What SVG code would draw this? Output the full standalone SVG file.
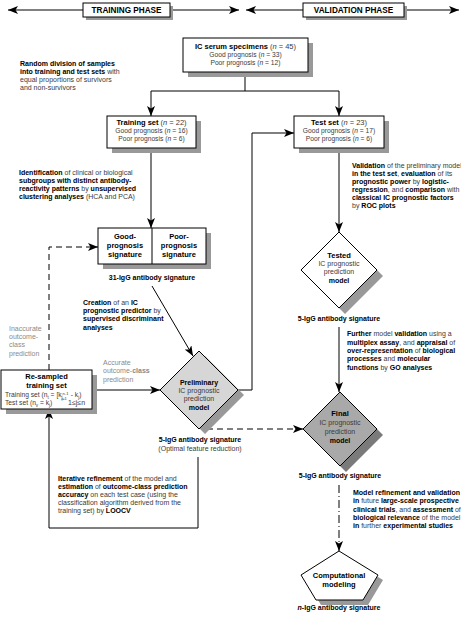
<svg xmlns="http://www.w3.org/2000/svg" width="461" height="617" viewBox="0 0 461 617">
<style>
.t{font-family:"Liberation Sans",Arial,Helvetica,sans-serif;font-size:7px;fill:#3a3a3a}
.c{text-anchor:middle}
.b{font-weight:bold;fill:#000}
.g{fill:#8a8a8a}
.s{font-size:6.7px}
.h{font-size:7.5px}
.hd{font-size:8.2px}
.box{fill:#fff;stroke:#000;stroke-width:1}
.sh{fill:#999}
.ln{fill:none;stroke:#000;stroke-width:1}
.dash{stroke-dasharray:6 4}
.dd{stroke-dasharray:8 3 1 3}
</style>
<defs>
<marker id="ah" markerUnits="userSpaceOnUse" markerWidth="10" markerHeight="8" refX="10" refY="4" orient="auto-start-reverse">
<path d="M0,0 L10,4 L0,8 L2.5,4 Z" fill="#000"/>
</marker>
</defs>
<rect width="461" height="617" fill="#fff"/>

<g id="connectors">
<line class="ln" x1="83" y1="10" x2="8" y2="10" marker-end="url(#ah)"/>
<line class="ln" x1="170" y1="10" x2="239" y2="10" marker-end="url(#ah)"/>
<line class="ln" x1="303" y1="10" x2="246" y2="10" marker-end="url(#ah)"/>
<line class="ln" x1="404" y1="10" x2="459" y2="10" marker-end="url(#ah)"/>
<line class="ln" x1="245" y1="72" x2="245" y2="91"/>
<line class="ln" x1="151" y1="91" x2="339" y2="91"/>
<line class="ln" x1="151" y1="91" x2="151" y2="116" marker-end="url(#ah)"/>
<line class="ln" x1="339" y1="91" x2="339" y2="116" marker-end="url(#ah)"/>
<line class="ln" x1="151" y1="148" x2="151" y2="228" marker-end="url(#ah)"/>
<line class="ln" x1="339" y1="148" x2="339" y2="232" marker-end="url(#ah)"/>
<line class="ln" x1="152" y1="286" x2="193" y2="356" marker-end="url(#ah)"/>
<line class="ln" x1="92" y1="390" x2="160" y2="390" marker-end="url(#ah)"/>
<polyline class="ln" points="238,390 252,390 252,133 294,133" marker-end="url(#ah)"/>
<line class="ln dash" x1="207" y1="429" x2="303" y2="429" marker-end="url(#ah)"/>
<polyline class="ln dash" points="49,370 49,247 98,247" marker-end="url(#ah)"/>
<polyline class="ln" points="198,457 198,528 49,528 49,409" marker-end="url(#ah)"/>
<line class="ln" x1="339" y1="327" x2="339" y2="392" marker-end="url(#ah)"/>
<line class="ln dd" x1="339" y1="485" x2="339" y2="551" marker-end="url(#ah)"/>
</g>

<g id="training-phase">
<rect class="sh" x="86" y="6" width="87" height="14"/>
<rect class="box" x="83" y="3" width="87" height="14"/>
<text class="t b hd c" x="126.5" y="13">TRAINING PHASE</text>
</g>
<g id="validation-phase">
<rect class="sh" x="306" y="6" width="101" height="14"/>
<rect class="box" x="303" y="3" width="101" height="14"/>
<text class="t b hd c" x="353.5" y="13">VALIDATION PHASE</text>
</g>

<g id="ic-serum">
<rect class="sh" x="188" y="43" width="125" height="34"/>
<rect class="box" x="183" y="38" width="125" height="34"/>
<text class="t h c" x="245.5" y="49"><tspan class="b">IC serum specimens</tspan> (<tspan font-style="italic">n</tspan> = 45)</text>
<text class="t s c" x="245.5" y="57">Good prognosis (<tspan font-style="italic">n</tspan> = 33)</text>
<text class="t s c" x="245.5" y="65">Poor prognosis (<tspan font-style="italic">n</tspan> = 12)</text>
</g>

<g id="random-division-note">
<text class="t" x="20" y="66"><tspan class="b">Random division of samples</tspan></text>
<text class="t" x="20" y="74"><tspan class="b">into training and test sets</tspan> with</text>
<text class="t" x="20" y="82">equal proportions of survivors</text>
<text class="t" x="20" y="90">and non-survivors</text>
</g>

<g id="training-set">
<rect class="sh" x="112" y="121" width="89" height="32"/>
<rect class="box" x="107" y="116" width="89" height="32"/>
<text class="t h c" x="151.5" y="125"><tspan class="b">Training set</tspan> (<tspan font-style="italic">n</tspan> = 22)</text>
<text class="t s c" x="151.5" y="133">Good prognosis (<tspan font-style="italic">n</tspan> = 16)</text>
<text class="t s c" x="151.5" y="141">Poor prognosis (<tspan font-style="italic">n</tspan> = 6)</text>
</g>

<g id="test-set">
<rect class="sh" x="299" y="121" width="90" height="32"/>
<rect class="box" x="294" y="116" width="90" height="32"/>
<text class="t h c" x="339" y="125"><tspan class="b">Test set</tspan> (<tspan font-style="italic">n</tspan> = 23)</text>
<text class="t s c" x="339" y="133">Good prognosis (<tspan font-style="italic">n</tspan> = 17)</text>
<text class="t s c" x="339" y="141">Poor prognosis (<tspan font-style="italic">n</tspan> = 6)</text>
</g>

<g id="identification-note">
<text class="t" x="19" y="175"><tspan class="b">Identification</tspan> of clinical or biological</text>
<text class="t" x="19" y="183"><tspan class="b">subgroups with distinct antibody-</tspan></text>
<text class="t" x="19" y="191"><tspan class="b">reactivity patterns</tspan> by <tspan class="b">unsupervised</tspan></text>
<text class="t" x="19" y="199"><tspan class="b">clustering analyses</tspan> (HCA and PCA)</text>
</g>

<g id="validation-note">
<text class="t" x="352" y="168"><tspan class="b">Validation</tspan> of the preliminary model</text>
<text class="t" x="352" y="176"><tspan class="b">in the test set</tspan>, <tspan class="b">evaluation</tspan> of its</text>
<text class="t" x="352" y="184"><tspan class="b">prognostic power</tspan> by <tspan class="b">logistic-</tspan></text>
<text class="t" x="352" y="192"><tspan class="b">regression</tspan>, and <tspan class="b">comparison</tspan> with</text>
<text class="t" x="352" y="200"><tspan class="b">classical IC prognostic factors</tspan></text>
<text class="t" x="352" y="208">by <tspan class="b">ROC plots</tspan></text>
</g>

<g id="signature-box">
<rect class="sh" x="103" y="233" width="108" height="36"/>
<rect class="box" x="98" y="228" width="108" height="36"/>
<line class="ln" x1="152" y1="228" x2="152" y2="264"/>
<text class="t b h c" x="125" y="239">Good-</text>
<text class="t b h c" x="125" y="248">prognosis</text>
<text class="t b h c" x="125" y="257">signature</text>
<text class="t b h c" x="179" y="239">Poor-</text>
<text class="t b h c" x="179" y="248">prognosis</text>
<text class="t b h c" x="179" y="257">signature</text>
<text class="t b c" x="152" y="280">31-IgG antibody signature</text>
</g>

<g id="tested-model">
<polygon class="sh" points="345,238 383,276 345,314 307,276"/>
<polygon class="box" points="339,232 377,270 339,308 301,270"/>
<text class="t b h c" x="339" y="258">Tested</text>
<text class="t c" x="339" y="266">IC prognostic</text>
<text class="t c" x="339" y="274">prediction</text>
<text class="t b c" x="339" y="283">model</text>
<text class="t b c" x="339" y="321">5-IgG antibody signature</text>
</g>

<g id="creation-note">
<text class="t" x="83" y="305"><tspan class="b">Creation</tspan> of an <tspan class="b">IC</tspan></text>
<text class="t" x="83" y="313"><tspan class="b">prognostic predictor</tspan> by</text>
<text class="t" x="83" y="321"><tspan class="b">supervised discriminant</tspan></text>
<text class="t" x="83" y="330"><tspan class="b">analyses</tspan></text>
</g>

<g id="inaccurate-note">
<text class="t g" x="9" y="331">Inaccurate</text>
<text class="t g" x="9" y="339">outcome-</text>
<text class="t g" x="9" y="347">class</text>
<text class="t g" x="9" y="356">prediction</text>
</g>

<g id="accurate-note">
<text class="t g" x="103" y="365">Accurate</text>
<text class="t g" x="103" y="373">outcome-<tspan font-weight="bold">class</tspan></text>
<text class="t g" x="103" y="382">prediction</text>
</g>

<g id="further-note">
<text class="t" x="347" y="336"><tspan class="b">Further</tspan> model <tspan class="b">validation</tspan> using a</text>
<text class="t" x="347" y="345"><tspan class="b">multiplex assay</tspan>, and <tspan class="b">appraisal</tspan> of</text>
<text class="t" x="347" y="353"><tspan class="b">over-representation</tspan> of <tspan class="b">biological</tspan></text>
<text class="t" x="347" y="361"><tspan class="b">processes</tspan> and <tspan class="b">molecular</tspan></text>
<text class="t" x="347" y="370"><tspan class="b">functions</tspan> by <tspan class="b">GO analyses</tspan></text>
</g>

<g id="resampled-set">
<rect class="sh" x="6" y="375" width="91" height="39"/>
<rect class="box" x="1" y="370" width="91" height="39"/>
<text class="t b h c" x="46.5" y="379">Re-sampled</text>
<text class="t b h c" x="46.5" y="388">training set</text>
<text class="t s" x="5" y="397">Training set (n<tspan font-size="4.5" dy="1.5">t</tspan><tspan dy="-1.5"> = [k</tspan><tspan font-size="4.5" dy="1.5">j</tspan><tspan font-size="4" dy="-4">n-1</tspan><tspan dx="-7" font-size="4" dy="5">j=1</tspan><tspan dy="-2.5" dx="2"> - k</tspan><tspan font-size="4.5" dy="1.5">j</tspan><tspan dy="-1.5">)</tspan></text>
<text class="t s" x="5" y="405">Test set (n<tspan font-size="4.5" dy="1.5">v</tspan><tspan dy="-1.5"> = k</tspan><tspan font-size="4.5" dy="1.5">j</tspan><tspan dy="-1.5">)</tspan></text>
<text class="t" font-size="5" x="68" y="405">1≤j≤n</text>
</g>

<g id="preliminary-model">
<polygon class="sh" points="205,356 244,395 205,434 166,395"/>
<polygon points="199,351 238,390 199,429 160,390" fill="#d6d6d6" stroke="#000" stroke-width="1"/>
<text class="t b c" font-size="8" x="199" y="385">Preliminary</text>
<text class="t c" font-size="7.5" x="199" y="393">IC prognostic</text>
<text class="t c" font-size="7.5" x="199" y="401">prediction</text>
<text class="t b c" font-size="7.5" x="199" y="410">model</text>
<text class="t b c" x="200" y="442">5-IgG antibody signature</text>
<text class="t c" x="200" y="451">(Optimal feature reduction)</text>
</g>

<g id="final-model">
<polygon points="346,398 383,435 346,472 309,435" fill="#7a7a7a"/>
<polygon points="340,392 377,429 340,466 303,429" fill="#a9a9a9" stroke="#000" stroke-width="1"/>
<text class="t b h c" x="340" y="416">Final</text>
<text class="t c" x="340" y="425">IC prognostic</text>
<text class="t c" x="340" y="434">prediction</text>
<text class="t b c" x="340" y="443">model</text>
<text class="t b c" x="340" y="478">5-IgG antibody signature</text>
</g>

<g id="iterative-note">
<text class="t" x="58" y="481"><tspan class="b">Iterative refinement</tspan> of the model and</text>
<text class="t" x="58" y="489"><tspan class="b">estimation</tspan> of <tspan class="b">outcome-class prediction</tspan></text>
<text class="t" x="58" y="497"><tspan class="b">accuracy</tspan> on each test case (using the</text>
<text class="t" x="58" y="505">classification algorithm derived from the</text>
<text class="t" x="58" y="513">training set) by <tspan class="b">LOOCV</tspan></text>
</g>

<g id="model-refinement-note">
<text class="t" x="353" y="495"><tspan class="b">Model refinement and validation</tspan></text>
<text class="t" x="353" y="503"><tspan class="b">in</tspan> future <tspan class="b">large-scale prospective</tspan></text>
<text class="t" x="353" y="512"><tspan class="b">clinical trials</tspan>, and <tspan class="b">assessment</tspan> of</text>
<text class="t" x="353" y="520"><tspan class="b">biological relevance</tspan> of the model</text>
<text class="t" x="353" y="528"><tspan class="b">in</tspan> further <tspan class="b">experimental studies</tspan></text>
</g>

<g id="computational-modeling">
<polygon class="sh" points="344,556 383,580 368,605 321,605 306,580"/>
<polygon class="box" points="339,551 378,575 363,600 316,600 301,575"/>
<text class="t b h c" x="339" y="578">Computational</text>
<text class="t b h c" x="339" y="587">modeling</text>
<text class="t b c" x="339" y="610"><tspan font-style="italic">n</tspan>-IgG antibody signature</text>
</g>
</svg>
